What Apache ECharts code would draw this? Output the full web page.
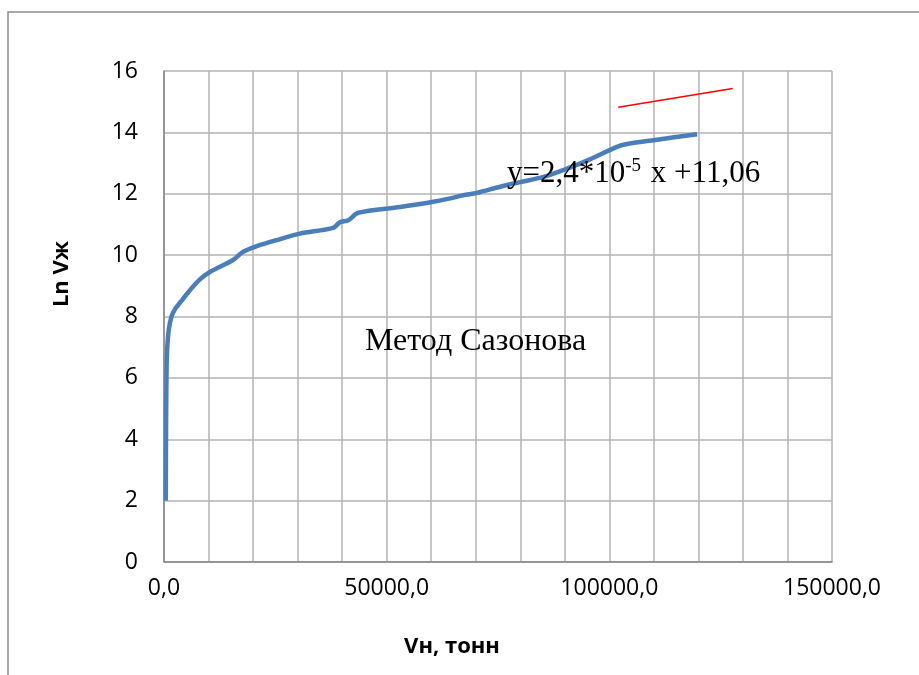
<!DOCTYPE html>
<html>
<head>
<meta charset="utf-8">
<script src="https://cdn.jsdelivr.net/npm/echarts@6/dist/echarts.min.js"></script>
<style>
html,body{margin:0;padding:0;background:#fff;}
#chart{width:919px;height:675px;}
</style>
</head>
<body>
<div id="chart"></div>
<script>
// Data
const vn = [400, 450, 550, 700, 1100, 1700, 2500, 3600, 5500, 8000, 10300, 15500, 17700, 21000, 25300, 30500, 38000, 39500, 41400, 43600, 53000, 60500, 64300, 67200, 70300, 75500, 80000, 85200, 90500, 95000, 101700, 104000, 110700, 119700];
const lnV = [2, 4, 6, 6.9, 7.6, 8, 8.25, 8.45, 8.8, 9.2, 9.45, 9.84, 10.1, 10.3, 10.49, 10.7, 10.89, 11.07, 11.14, 11.38, 11.57, 11.74, 11.85, 11.95, 12.03, 12.23, 12.38, 12.55, 12.82, 13.08, 13.53, 13.62, 13.76, 13.94];
const trendX = [102000, 127700];
const trendY = [14.82, 15.43];
const xTicks = [0, 50000, 100000, 150000];
const yTicks = [0, 2, 4, 6, 8, 10, 12, 14, 16];
const xTitle = 'Vн, тонн';
const yTitle = 'Ln Vж';

const chart = echarts.init(document.getElementById('chart'), null, {renderer: 'canvas'});
const tickFont = '"Open Sans", "DejaVu Sans", sans-serif';
chart.setOption({
  animation: false,
  backgroundColor: '#fff',
  grid: {left: 164, right: 87, top: 71, bottom: 113, containLabel: false},
  xAxis: {
    type: 'value', min: 0, max: 150000, interval: 10000,
    axisLine: {show: true, lineStyle: {color: '#868686', width: 1.5}},
    axisTick: {show: false},
    splitLine: {show: true, lineStyle: {color: '#b3b3b3', width: 1.5}},
    axisLabel: {
      fontFamily: tickFont, fontSize: 23, color: '#000', margin: 15,
      formatter: v => xTicks.includes(v) ? v.toFixed(1).replace('.', ',') : ''
    }
  },
  yAxis: {
    type: 'value', min: 0, max: 16, interval: 2,
    axisLine: {show: true, lineStyle: {color: '#868686', width: 1.5}},
    axisTick: {show: false},
    splitLine: {show: true, lineStyle: {color: '#b3b3b3', width: 1.5}},
    axisLabel: {
      fontFamily: tickFont, fontSize: 23, color: '#000', margin: 26,
      formatter: v => yTicks.includes(v) ? String(v) : ''
    }
  },
  series: [
    {
      type: 'line', data: vn.map((x, i) => [x, lnV[i]]),
      showSymbol: false, smooth: 0.3,
      lineStyle: {color: '#4a7ebb', width: 4.5},
      z: 3
    },
    {
      type: 'line', data: trendX.map((x, i) => [x, trendY[i]]),
      showSymbol: false,
      lineStyle: {color: '#ff0000', width: 1.5},
      z: 4
    }
  ],
  graphic: [
    {type: 'rect', shape: {x: 8, y: 12, width: 950, height: 700}, style: {fill: null, stroke: '#8a8a8a', lineWidth: 1.5}, z: 0, silent: true},
    {type: 'text', x: 452, y: 647, z: 10, style: {
      text: xTitle, font: 'bold 22px "Open Sans", "DejaVu Sans", sans-serif', fill: '#000', align: 'center', verticalAlign: 'middle'
    }},
    {type: 'text', x: 62, y: 274, rotation: Math.PI / 2, z: 10, style: {
      text: yTitle, font: 'bold 22px "Open Sans", "DejaVu Sans", sans-serif', fill: '#000', align: 'center', verticalAlign: 'middle'
    }},
    {type: 'text', left: 365, top: 326, z: 10, style: {
      text: 'Метод Сазонова', font: '32px "Liberation Serif", "Times New Roman", serif', fill: '#000'
    }},
    {type: 'text', left: 507, top: 157, z: 10, style: {
      text: 'y=2,4*10{sup|-5} x +11,06',
      font: '31px "Liberation Serif", "Times New Roman", serif', fill: '#000',
      rich: {sup: {fontSize: 19, fontFamily: '"Liberation Serif", serif', verticalAlign: 'top', padding: [0, 2, 14, 0], fill: '#000'}}
    }}
  ]
});
</script>
</body>
</html>
